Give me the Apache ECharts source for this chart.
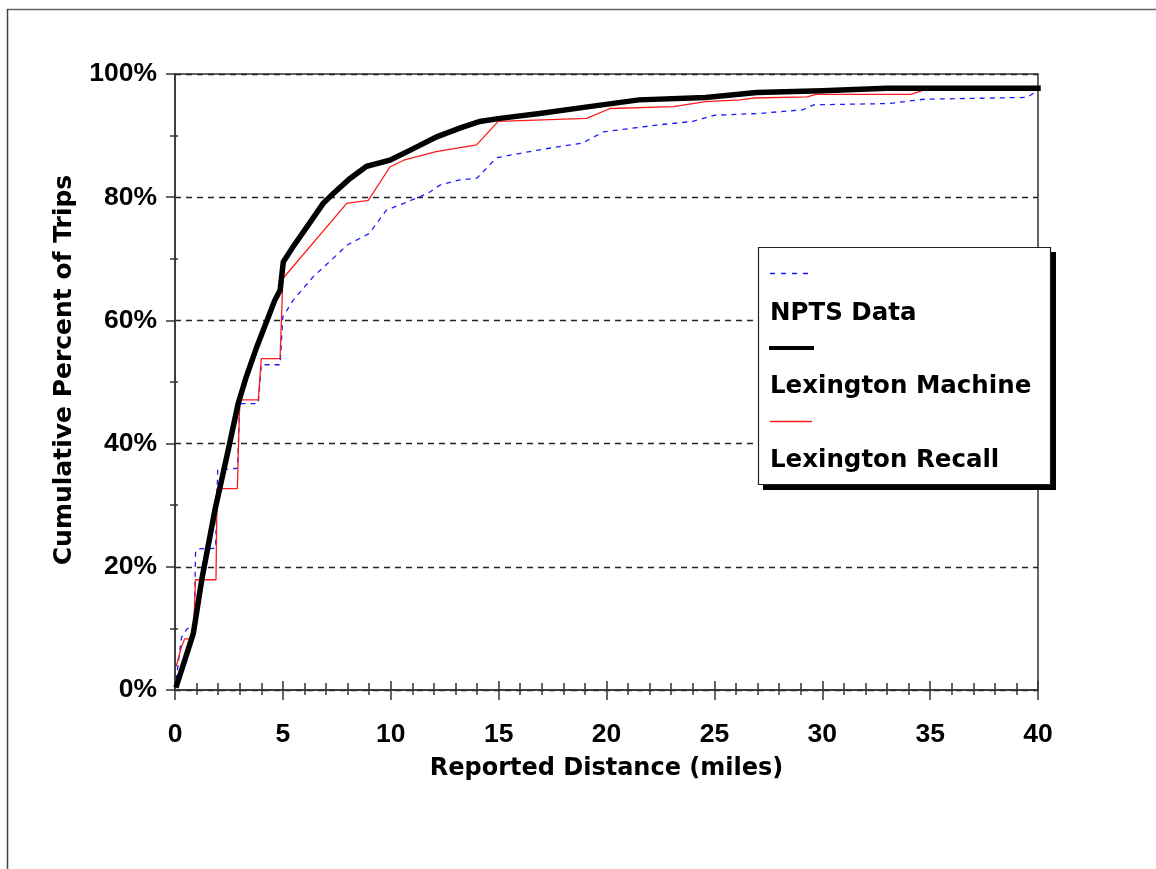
<!DOCTYPE html>
<html>
<head>
<meta charset="utf-8">
<script src="https://cdn.jsdelivr.net/npm/echarts@6/dist/echarts.min.js"></script>
<style>
  html, body { margin: 0; padding: 0; background: #fff; }
  #chart { width: 1156px; height: 869px; }
</style>
</head>
<body>
<div id="chart"></div>
<script>
// ---- Data ----
const seriesNames = ['NPTS Data', 'Lexington Machine', 'Lexington Recall'];
const xTicks = [0, 5, 10, 15, 20, 25, 30, 35, 40];
const yTicks = [0, 20, 40, 60, 80, 100];

// [distance (miles), cumulative percent]
const nptsData = [
  [0.05, 1.6], [0.3, 8.5], [0.55, 9.9], [0.9, 10.5], [0.95, 22.3], [1.05, 22.9],
  [1.88, 23.0], [1.98, 35.7], [2.9, 36.0], [3.0, 46.5], [3.86, 46.5], [4.0, 52.8],
  [4.87, 52.8], [5.0, 60.6], [5.48, 63.3], [6.41, 67.1], [7.49, 70.6], [7.96, 72.2],
  [9.0, 74.1], [9.8, 77.9], [10.6, 79.0], [11.7, 80.6], [12.3, 82.0], [13.2, 82.8],
  [14.0, 83.1], [14.9, 86.4], [16.9, 87.7], [18.9, 88.8], [19.85, 90.6], [22.3, 91.7],
  [24.0, 92.3], [25.0, 93.3], [27.1, 93.6], [29.1, 94.2], [29.6, 95.0], [33.1, 95.2],
  [34.7, 95.9], [39.5, 96.2], [39.8, 96.9]
];

const machineData = [
  [0.08, 0.8], [0.45, 4.8], [0.85, 9.2], [1.24, 17.9], [1.85, 29.2], [2.4, 37.9],
  [2.93, 46.5], [3.3, 50.8], [3.79, 55.7], [4.63, 63.3], [4.87, 64.9], [5.02, 69.5],
  [5.48, 72.0], [6.18, 75.5], [6.87, 79.0], [7.34, 80.6], [8.1, 83.0], [8.88, 85.0],
  [9.96, 86.0], [11.0, 87.8], [12.13, 89.8], [13.2, 91.2], [14.13, 92.3], [15.06, 92.8],
  [16.9, 93.6], [19.2, 94.7], [21.5, 95.8], [24.6, 96.2], [26.96, 97.0], [30.0, 97.3],
  [33.0, 97.7], [40.0, 97.7]
];

const recallData = [
  [0.05, 3.8], [0.3, 7.0], [0.45, 8.3], [0.85, 8.3], [0.95, 17.9], [1.9, 17.9],
  [1.95, 32.7], [2.89, 32.7], [3.0, 47.1], [3.86, 47.1], [4.0, 53.8], [4.87, 53.8],
  [5.0, 66.8], [7.96, 79.0], [8.96, 79.5], [9.96, 84.9], [10.6, 86.0], [12.1, 87.4],
  [13.98, 88.5], [14.98, 92.3], [19.08, 92.8], [20.16, 94.4], [23.1, 94.7], [24.6, 95.5],
  [26.2, 95.8], [26.8, 96.1], [29.3, 96.3], [29.7, 96.7], [34.1, 96.7], [34.7, 97.4],
  [39.5, 97.5], [39.9, 97.8]
];

// ---- Chart ----
const TICKFONT = 'Liberation Sans, Arial, Helvetica, sans-serif';
const TITLEFONT = 'DejaVu Sans, Verdana, sans-serif';
const chart = echarts.init(document.getElementById('chart'), null, { renderer: 'canvas' });

const xMin = xTicks[0], xMax = xTicks[xTicks.length - 1], xInt = xTicks[1] - xTicks[0];
const yMin = yTicks[0], yMax = yTicks[yTicks.length - 1], yInt = yTicks[1] - yTicks[0];

const option = {
  backgroundColor: '#ffffff',
  animation: false,
  grid: {
    left: 175, top: 74, width: 863, height: 616,
    containLabel: false, outerBoundsMode: 'none',
    show: true, borderColor: '#333', borderWidth: 1.5, backgroundColor: 'transparent'
  },
  xAxis: [
    {
      type: 'value', min: xMin, max: xMax, interval: xInt,
      name: 'Reported Distance (miles)', nameLocation: 'middle', nameGap: 67,
      nameTextStyle: { fontFamily: TITLEFONT, fontWeight: 'bold', fontSize: 24, color: '#000' },
      axisLine: { show: true, onZero: false, lineStyle: { color: '#333', width: 1.5 } },
      axisTick: { show: true, inside: false, length: 10, lineStyle: { color: '#333', width: 1.5 } },
      minorTick: { show: true, splitNumber: 5, length: 5, lineStyle: { color: '#333', width: 1.5 } },
      axisLabel: { show: true, margin: 31, fontFamily: TICKFONT, fontWeight: 'bold', fontSize: 26.5, color: '#000' },
      splitLine: { show: false }
    },
    {
      type: 'value', min: xMin, max: xMax, interval: xInt, position: 'bottom',
      axisLine: { show: false },
      axisTick: { show: true, inside: true, length: 9, lineStyle: { color: '#333', width: 1.5 } },
      minorTick: { show: true, splitNumber: 5, length: 7, lineStyle: { color: '#333', width: 1.5 } },
      axisLabel: { show: false },
      splitLine: { show: false }
    }
  ],
  yAxis: [
    {
      type: 'value', min: yMin, max: yMax, interval: yInt,
      name: 'Cumulative Percent of Trips', nameLocation: 'middle', nameGap: 98, nameRotate: 90,
      nameTextStyle: { fontFamily: TITLEFONT, fontWeight: 'bold', fontSize: 25, color: '#000', padding: [0, 0, 0, 24] },
      axisLine: { show: true, onZero: false, lineStyle: { color: '#333', width: 1.5 } },
      axisTick: { show: true, inside: false, length: 9, lineStyle: { color: '#333', width: 1.5 } },
      minorTick: { show: true, splitNumber: 2, length: 5, lineStyle: { color: '#333', width: 1.5 } },
      axisLabel: {
        show: true, margin: 18, fontFamily: TICKFONT, fontWeight: 'bold', fontSize: 26.5, color: '#000',
        formatter: v => v + '%'
      },
      splitLine: { show: true, lineStyle: { color: '#222', width: 1.3, type: [6, 5] } }
    },
    {
      type: 'value', min: yMin, max: yMax, interval: yInt, position: 'left',
      axisLine: { show: false },
      axisTick: { show: false, inside: true },
      minorTick: { show: true, splitNumber: 2, length: 3, lineStyle: { color: '#333', width: 1.5 } },
      axisLabel: { show: false },
      splitLine: { show: false }
    }
  ],
  series: [
    {
      name: seriesNames[0], type: 'line', data: nptsData, showSymbol: false, symbol: 'none',
      xAxisIndex: 0, yAxisIndex: 0, z: 3,
      lineStyle: { color: '#1a1aff', width: 1.3, type: [5, 5] }
    },
    {
      name: seriesNames[2], type: 'line', data: recallData, showSymbol: false, symbol: 'none',
      xAxisIndex: 0, yAxisIndex: 0, z: 4,
      lineStyle: { color: '#ff1a1a', width: 1.3 }
    },
    {
      name: seriesNames[1], type: 'line', data: machineData, showSymbol: false, symbol: 'none',
      xAxisIndex: 0, yAxisIndex: 0, z: 5,
      lineStyle: { color: '#000', width: 5.5, cap: 'square', join: 'miter' }
    }
  ],
  graphic: [
    // page frame
    { type: 'line', shape: { x1: 7, y1: 9.5, x2: 1156, y2: 9.5 }, style: { stroke: '#666', lineWidth: 1.5 }, silent: true },
    { type: 'line', shape: { x1: 7.5, y1: 9, x2: 7.5, y2: 869 }, style: { stroke: '#444', lineWidth: 1.5 }, silent: true },
    // legend box with shadow
    { type: 'rect', shape: { x: 763, y: 252, width: 293, height: 238 }, style: { fill: '#000' }, z: 20, silent: true },
    { type: 'rect', shape: { x: 758.5, y: 247.5, width: 292, height: 237 }, style: { fill: '#fff', stroke: '#222', lineWidth: 1.2 }, z: 21, silent: true },
    { type: 'line', shape: { x1: 770, y1: 273.5, x2: 810, y2: 273.5 }, style: { stroke: '#1a1aff', lineWidth: 1.3, lineDash: [5, 6] }, z: 22, silent: true },
    { type: 'text', style: { x: 770, y: 314, text: seriesNames[0], font: 'bold 24.5px ' + TITLEFONT, fill: '#000', textVerticalAlign: 'middle', verticalAlign: 'middle' }, z: 22, silent: true },
    { type: 'line', shape: { x1: 769, y1: 348, x2: 814, y2: 348 }, style: { stroke: '#000', lineWidth: 4 }, z: 22, silent: true },
    { type: 'text', style: { x: 770, y: 387, text: seriesNames[1], font: 'bold 24.5px ' + TITLEFONT, fill: '#000', textVerticalAlign: 'middle', verticalAlign: 'middle' }, z: 22, silent: true },
    { type: 'line', shape: { x1: 770, y1: 421.5, x2: 812, y2: 421.5 }, style: { stroke: '#ff1a1a', lineWidth: 1.3 }, z: 22, silent: true },
    { type: 'text', style: { x: 770, y: 461, text: seriesNames[2], font: 'bold 24.5px ' + TITLEFONT, fill: '#000', textVerticalAlign: 'middle', verticalAlign: 'middle' }, z: 22, silent: true }
  ]
};
chart.setOption(option);
</script>
</body>
</html>
